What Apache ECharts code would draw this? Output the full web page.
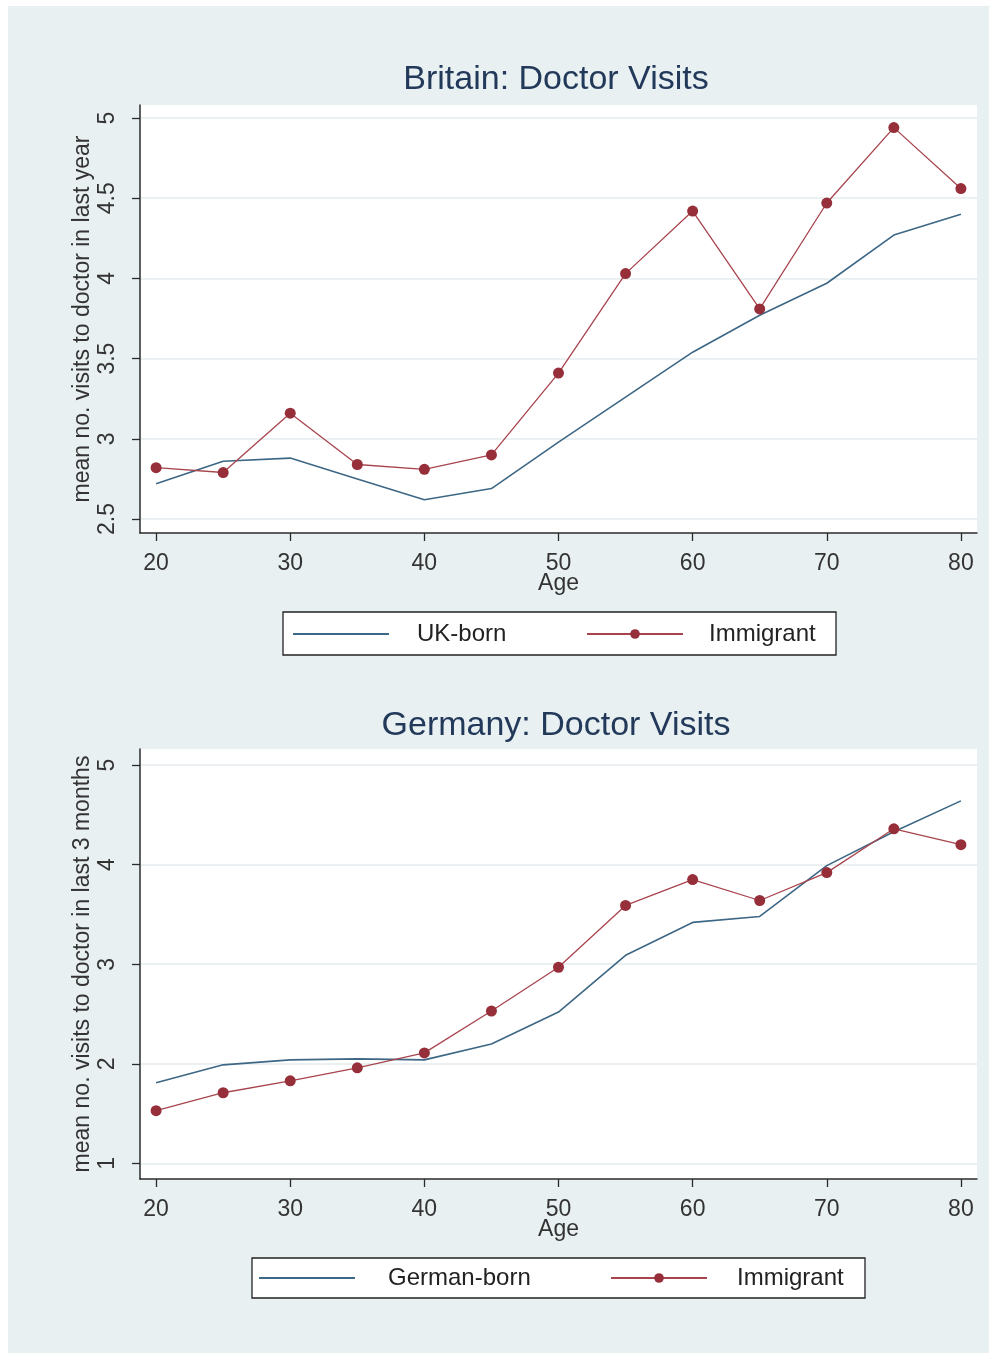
<!DOCTYPE html>
<html>
<head>
<meta charset="utf-8">
<script src="https://cdn.jsdelivr.net/npm/echarts@6/dist/echarts.min.js"></script>
<style>
html, body { margin: 0; padding: 0; background: #fff; }
#wrap { position: absolute; left: 8px; top: 6px; width: 981px; height: 1347px; background: #e9f0f2; }
</style>
</head>
<body>
<div id="wrap"></div>
<script>
// ages on the x axis
var ages = [20, 25, 30, 35, 40, 45, 50, 55, 60, 65, 70, 75, 80];

// Britain: mean visits in last year
var ukBorn      = [2.72, 2.86, 2.88, 2.75, 2.62, 2.69, 2.98, 3.26, 3.54, 3.77, 3.97, 4.27, 4.40];
var ukImmigrant = [2.82, 2.79, 3.16, 2.84, 2.81, 2.90, 3.41, 4.03, 4.42, 3.81, 4.47, 4.94, 4.56];

// Germany: mean visits in last 3 months
var deBorn      = [1.81, 1.99, 2.04, 2.05, 2.04, 2.20, 2.52, 3.09, 3.42, 3.48, 3.99, 4.33, 4.64];
var deImmigrant = [1.53, 1.71, 1.83, 1.96, 2.11, 2.53, 2.97, 3.59, 3.85, 3.64, 3.92, 4.36, 4.20];

var ageTicks = [20, 30, 40, 50, 60, 70, 80];
var ukTicks = [2.5, 3, 3.5, 4, 4.5, 5];
var deTicks = [1, 2, 3, 4, 5];

var FONT = 'Liberation Sans, Arial, sans-serif';
var AXIS_COL = '#2b2b2b';
var BLUE = '#3d6784';
var RED = '#962f39';

function pairs(vals) {
    return ages.map(function (a, i) { return [a, vals[i]]; });
}

function xAxisFor(gi) {
    return {
        type: 'value', gridIndex: gi, min: 18.8, max: 81.2,
        name: 'Age', nameLocation: 'middle', nameGap: 39, nameMoveOverlap: false,
        nameTextStyle: { fontSize: 23, color: '#333', fontFamily: FONT },
        axisLine: { show: true, onZero: false, lineStyle: { color: AXIS_COL, width: 1.5 } },
        axisTick: { show: true, length: 8, customValues: ageTicks, lineStyle: { color: AXIS_COL, width: 1.3 } },
        axisLabel: { customValues: ageTicks, margin: 19, fontSize: 23, color: '#333', fontFamily: FONT },
        splitLine: { show: false }
    };
}

function yAxisFor(gi, min, max, ticks, title) {
    return {
        type: 'value', gridIndex: gi, min: min, max: max,
        name: title, nameLocation: 'middle', nameGap: 46, nameMoveOverlap: false,
        nameTextStyle: { fontSize: 23, color: '#333', fontFamily: FONT },
        axisLine: { show: true, onZero: false, lineStyle: { color: AXIS_COL, width: 1.5 } },
        axisTick: { show: true, length: 8, customValues: ticks, lineStyle: { color: AXIS_COL, width: 1.3 } },
        axisLabel: { customValues: ticks, rotate: 90, margin: 21, fontSize: 23, color: '#333', fontFamily: FONT },
        splitLine: { show: true, lineStyle: { color: '#e4ecef', width: 1.5 } }
    };
}

function lineSeries(name, gi, vals, withDots) {
    var col = withDots ? RED : BLUE;
    return {
        name: name, type: 'line', xAxisIndex: gi, yAxisIndex: gi,
        data: pairs(vals),
        symbol: withDots ? 'circle' : 'none',
        symbolSize: 11,
        showSymbol: withDots,
        itemStyle: { color: col },
        lineStyle: { color: withDots ? '#a8444d' : BLUE, width: withDots ? 1.3 : 1.6 },
        animation: false,
        z: withDots ? 3 : 2
    };
}

function legendFor(top, left, pad, items) {
    return {
        top: top, left: left, orient: 'horizontal',
        padding: pad,
        itemWidth: 96, itemHeight: 12, itemGap: 20,
        backgroundColor: '#fff', borderColor: '#222', borderWidth: 1.3, borderRadius: 0,
        selectedMode: false,
        textStyle: { fontSize: 24, color: '#222', fontFamily: FONT, lineHeight: 24 },
        data: items
    };
}

var chart = echarts.init(document.getElementById('wrap'));

var option = {
    backgroundColor: '#e9f0f2',
    animation: false,
    textStyle: { fontFamily: FONT },
    title: [
        { text: 'Britain: Doctor Visits', left: 548, top: 57, textAlign: 'center', padding: 0,
          textStyle: { fontSize: 34, fontWeight: 'normal', color: '#22395a', fontFamily: FONT } },
        { text: 'Germany: Doctor Visits', left: 548, top: 703, textAlign: 'center', padding: 0,
          textStyle: { fontSize: 34, fontWeight: 'normal', color: '#22395a', fontFamily: FONT } }
    ],
    grid: [
        { left: 132, top: 99, width: 837, height: 428, show: true, backgroundColor: '#fff', borderWidth: 0, outerBoundsMode: 'none' },
        { left: 132, top: 743, width: 837, height: 430, show: true, backgroundColor: '#fff', borderWidth: 0, outerBoundsMode: 'none' }
    ],
    xAxis: [xAxisFor(0), xAxisFor(1)],
    yAxis: [
        yAxisFor(0, 2.413, 5.081, ukTicks, 'mean no. visits to doctor in last year'),
        yAxisFor(1, 0.844, 5.161, deTicks, 'mean no. visits to doctor in last 3 months')
    ],
    legend: [
        legendFor(606, 275, [10, 12, 9, 9], [
            { name: 'UK-born', itemStyle: { opacity: 0 }, textStyle: { width: 149, padding: [0, 0, 0, 23] } },
            { name: 'Immigrant', textStyle: { width: 115, padding: [0, 0, 0, 21] } }
        ]),
        legendFor(1252, 244, [8, 12, 8, 6], [
            { name: 'German-born', itemStyle: { opacity: 0 }, textStyle: { width: 202, padding: [0, 0, 0, 28] } },
            { name: 'Immigrant', textStyle: { width: 116, padding: [0, 0, 0, 25] } }
        ])
    ],
    series: [
        lineSeries('UK-born', 0, ukBorn, false),
        lineSeries('Immigrant', 0, ukImmigrant, true),
        lineSeries('German-born', 1, deBorn, false),
        lineSeries('Immigrant', 1, deImmigrant, true)
    ]
};

chart.setOption(option);
</script>
</body>
</html>
